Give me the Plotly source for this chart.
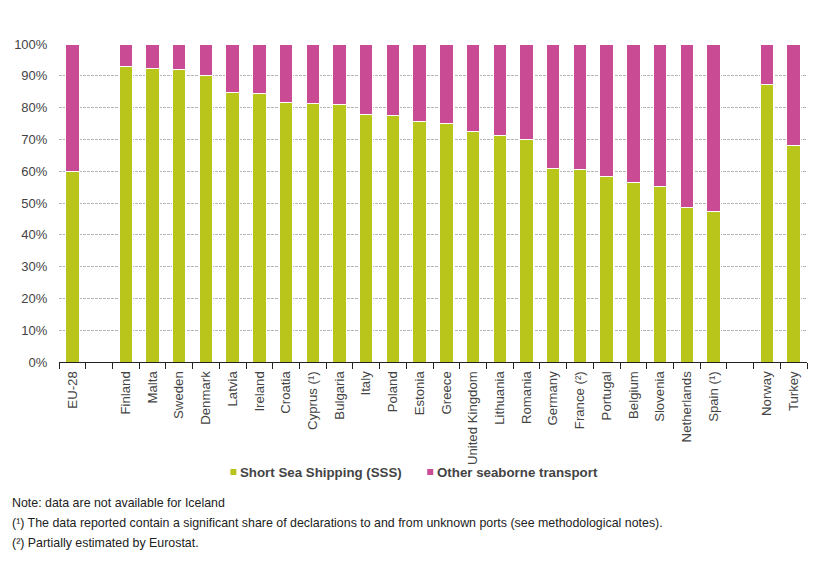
import plotly.graph_objects as go

# -- Data ---------------------------------------------------------------------
COUNTRIES = ["EU-28", " ", "Finland", "Malta", "Sweden", "Denmark", "Latvia", "Ireland",
             "Croatia", "Cyprus (¹)", "Bulgaria", "Italy", "Poland", "Estonia", "Greece",
             "United Kingdom", "Lithuania", "Romania", "Germany", "France (²)", "Portugal",
             "Belgium", "Slovenia", "Netherlands", "Spain (¹)", "  ", "Norway", "Turkey"]
SSS = [60, None, 93, 92.3, 92, 90, 84.8, 84.5, 81.7, 81.4, 81, 77.7, 77.6, 75.6, 75,
       72.6, 71.3, 70, 60.7, 60.6, 58.2, 56.5, 55.3, 48.7, 47.2, None, 87.3, 68.2]
OTHER = [40, None, 7, 7.7, 8, 10, 15.2, 15.5, 18.3, 18.6, 19, 22.3, 22.4, 24.4, 25,
         27.4, 28.7, 30, 39.3, 39.4, 41.8, 43.5, 44.7, 51.3, 52.8, None, 12.7, 31.8]
Y_TICKS = list(range(0, 101, 10))
Y_LABELS = [f"{v}%" for v in Y_TICKS]
NOTES = ["Note: data are not available for Iceland",
         "(¹) The data reported contain a significant share of declarations to and from unknown ports (see methodological notes).",
         "(²) Partially estimated by Eurostat."]
LEGEND = [("Short Sea Shipping (SSS)", "#b9c51b", 230), ("Other seaborne transport", "#c94b94", 427)]

TEXT = "#444444"
FONT = "Liberation Sans, Arial, sans-serif"
W, H = 825, 567
LEFT, RIGHT, TOP, BOTTOM = 58.5, 807, 44, 362
PW, PH = RIGHT - LEFT, BOTTOM - TOP


def px(x):
    return (x - LEFT) / PW


def py(y):
    return (BOTTOM - y) / PH


# -- Plot ---------------------------------------------------------------------
fig = go.Figure()
fig.add_trace(go.Bar(x=COUNTRIES, y=SSS, name=LEGEND[0][0], marker_color=LEGEND[0][1],
                     marker_line=dict(color="white", width=1)))
fig.add_trace(go.Bar(x=COUNTRIES, y=OTHER, name=LEGEND[1][0], marker_color=LEGEND[1][1],
                     marker_line=dict(color="white", width=1)))

# legend swatches are smaller and closer to the text than plotly's own legend allows
for name, color, x0 in LEGEND:
    fig.add_shape(type="rect", xref="paper", yref="paper", x0=px(x0), x1=px(x0 + 6),
                  y0=py(475), y1=py(469), fillcolor=color, line_width=0)
    fig.add_annotation(text=f"<b>{name}</b>", xref="paper", yref="paper", showarrow=False,
                       x=px(x0 + 8), y=py(472), xanchor="left", yanchor="middle",
                       font=dict(family=FONT, size=13.3, color=TEXT))

for text, ypx in zip(NOTES, [503, 523, 543]):
    fig.add_annotation(text=text, xref="paper", yref="paper", showarrow=False, align="left",
                       x=px(9), y=py(ypx), xanchor="left", yanchor="middle",
                       font=dict(family=FONT, size=12.4, color="#222222"))

fig.update_layout(
    width=W, height=H, barmode="stack", bargap=0.5,
    paper_bgcolor="white", plot_bgcolor="white",
    font=dict(family=FONT, size=12, color=TEXT),
    margin=dict(l=LEFT, r=W - RIGHT, t=TOP, b=H - BOTTOM, pad=0, autoexpand=False),
    showlegend=False,
    xaxis=dict(type="category", categoryorder="array", categoryarray=COUNTRIES,
               tickangle=-90, tickson="boundaries", ticks="outside", ticklen=6,
               tickcolor="#222222", tickwidth=1, showline=True, linecolor="#222222",
               linewidth=1, showgrid=False, ticklabelstandoff=3,
               tickfont=dict(size=13.2, color=TEXT), automargin=False),
    yaxis=dict(range=[0, 100], tickvals=Y_TICKS, ticktext=Y_LABELS, ticks="outside",
               ticklen=8, tickcolor="white", showline=False, showgrid=True,
               gridcolor="#b5b5b5", griddash="3px,1px", gridwidth=1, zeroline=False,
               tickfont=dict(size=13, color=TEXT), automargin=False),
)

# the page's default 8px body margin would push the whole chart off position
fig.write_html("out.html", post_script="document.body.style.margin='0';",
               config=dict(displayModeBar=False))
